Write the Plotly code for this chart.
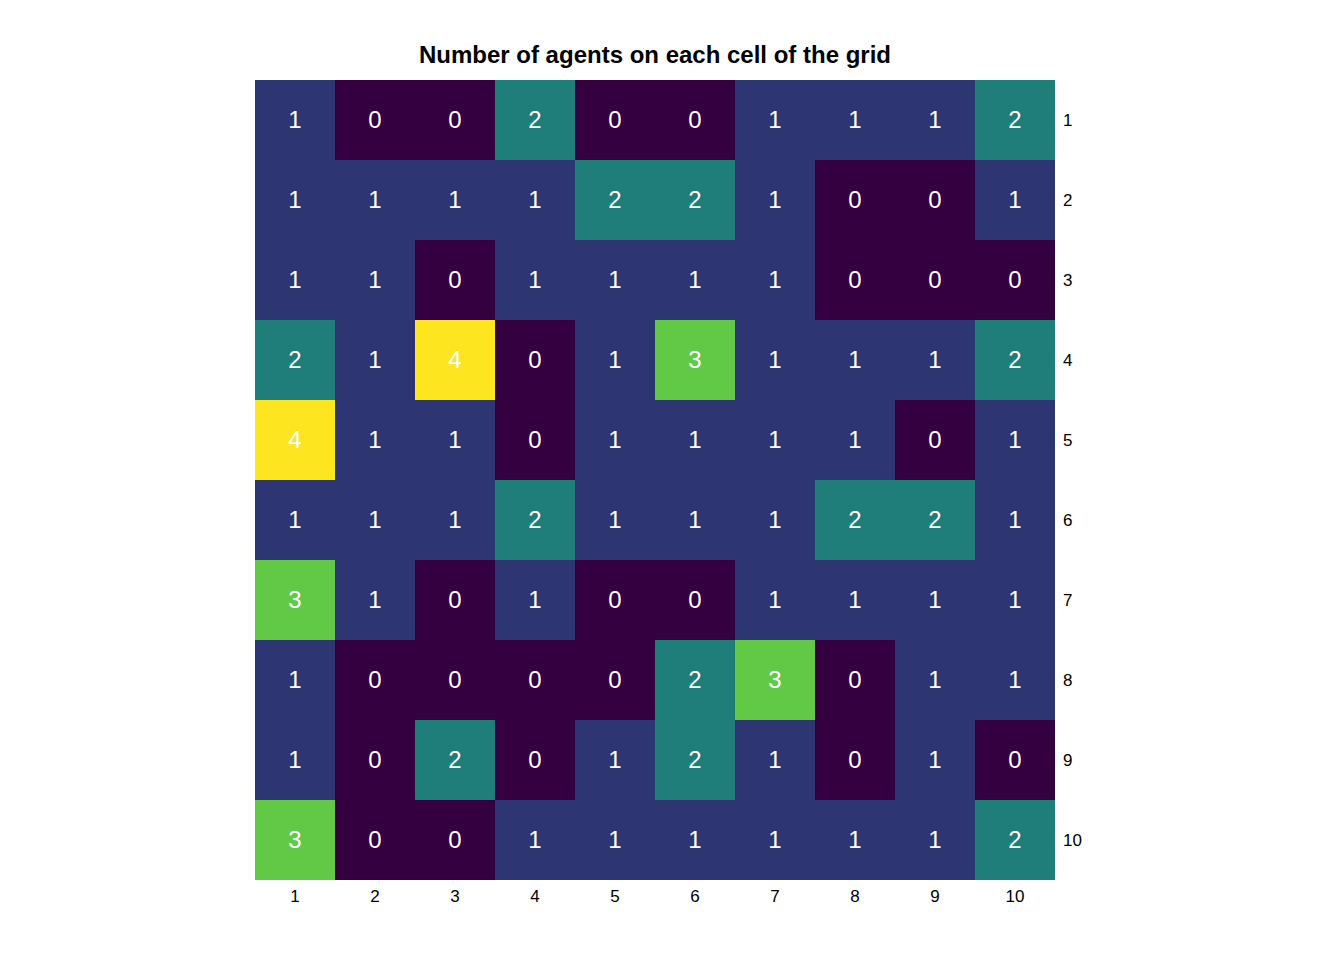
import plotly.graph_objects as go

cols = [str(i) for i in range(1, 11)]
rows = [str(i) for i in range(1, 11)]
counts = [
    [1, 0, 0, 2, 0, 0, 1, 1, 1, 2],
    [1, 1, 1, 1, 2, 2, 1, 0, 0, 1],
    [1, 1, 0, 1, 1, 1, 1, 0, 0, 0],
    [2, 1, 4, 0, 1, 3, 1, 1, 1, 2],
    [4, 1, 1, 0, 1, 1, 1, 1, 0, 1],
    [1, 1, 1, 2, 1, 1, 1, 2, 2, 1],
    [3, 1, 0, 1, 0, 0, 1, 1, 1, 1],
    [1, 0, 0, 0, 0, 2, 3, 0, 1, 1],
    [1, 0, 2, 0, 1, 2, 1, 0, 1, 0],
    [3, 0, 0, 1, 1, 1, 1, 1, 1, 2],
]
palette = ["#350040", "#2e3573", "#1f7e7a", "#62c947", "#fde520"]

colorscale = [[i / 4, c] for i, c in enumerate(palette)]

fig = go.Figure(go.Heatmap(
    z=counts, x=cols, y=rows,
    colorscale=colorscale, zmin=0, zmax=4, showscale=False,
    texttemplate="%{z}",
    textfont=dict(color="white", size=24, family="Liberation Sans, Arial"),
    xgap=0, ygap=0, hoverinfo="skip",
))

fig.update_layout(
    width=1344, height=960,
    margin=dict(l=247, r=297, t=72, b=88),
    plot_bgcolor="white", paper_bgcolor="white",
    font=dict(family="Liberation Sans, Arial", color="black", size=17),
    title=dict(text="<b>Number of agents on each cell of the grid</b>",
               x=0.5, xref="paper", xanchor="center",
               y=1 - 47 / 960, yref="container", yanchor="middle",
               font=dict(size=24, color="black")),
)
fig.update_xaxes(type="category", showgrid=False, zeroline=False, ticks="",
                 showline=False, tickfont=dict(size=17), ticklabelstandoff=4)
fig.update_yaxes(type="category", autorange="reversed", side="right",
                 showgrid=False, zeroline=False, ticks="", showline=False,
                 tickfont=dict(size=17), ticklabelstandoff=7)

fig.write_html("out.html")
